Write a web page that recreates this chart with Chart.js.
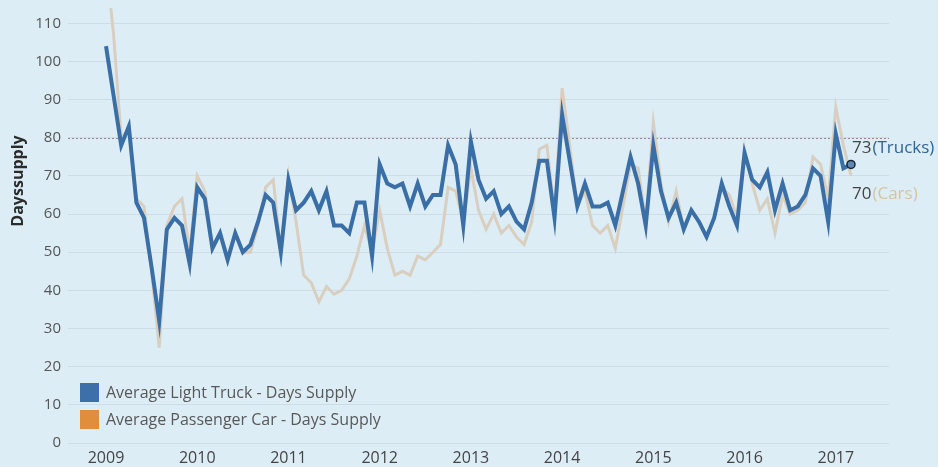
<!DOCTYPE html>
<html>
<head>
<meta charset="utf-8">
<script src="https://cdn.jsdelivr.net/npm/chart.js@4.4.1/dist/chart.umd.min.js"></script>
<style>
html,body{margin:0;padding:0;background:#ddedf6;}
canvas{display:block;}
</style>
</head>
<body>
<canvas id="supplyChart" width="938" height="467"></canvas>
<script>
// monthly categories, Jan 2009 .. Mar 2017
const months = [
  '2009-01','2009-02','2009-03','2009-04','2009-05','2009-06','2009-07','2009-08','2009-09','2009-10','2009-11','2009-12',
  '2010-01','2010-02','2010-03','2010-04','2010-05','2010-06','2010-07','2010-08','2010-09','2010-10','2010-11','2010-12',
  '2011-01','2011-02','2011-03','2011-04','2011-05','2011-06','2011-07','2011-08','2011-09','2011-10','2011-11','2011-12',
  '2012-01','2012-02','2012-03','2012-04','2012-05','2012-06','2012-07','2012-08','2012-09','2012-10','2012-11','2012-12',
  '2013-01','2013-02','2013-03','2013-04','2013-05','2013-06','2013-07','2013-08','2013-09','2013-10','2013-11','2013-12',
  '2014-01','2014-02','2014-03','2014-04','2014-05','2014-06','2014-07','2014-08','2014-09','2014-10','2014-11','2014-12',
  '2015-01','2015-02','2015-03','2015-04','2015-05','2015-06','2015-07','2015-08','2015-09','2015-10','2015-11','2015-12',
  '2016-01','2016-02','2016-03','2016-04','2016-05','2016-06','2016-07','2016-08','2016-09','2016-10','2016-11','2016-12',
  '2017-01','2017-02','2017-03'
];

const trucks = [
  104,91,78,83,63,59,46,32,56,59,57,47,
  67,64,51,55,48,55,50,52,58,65,63,50,
  69,61,63,66,61,66,57,57,55,63,63,49,
  73,68,67,68,62,68,62,65,65,78,73,57,
  79,69,64,66,60,62,58,56,63,74,74,59,
  86,74,62,68,62,62,63,57,66,75,68,57,
  78,66,59,63,56,61,58,54,59,68,62,57,
  76,69,67,71,61,68,61,62,65,72,70,58,
  81,72,73
];

const cars = [
  126,107,80,82,64,62,45,25,57,62,64,50,
  70,66,52,55,49,55,50,50,57,67,69,50,
  70,58,44,42,37,41,39,40,43,49,57,50,
  61,51,44,45,44,49,48,50,52,67,66,58,
  72,61,56,60,55,57,54,52,58,77,78,60,
  93,78,62,66,57,55,57,51,62,73,72,58,
  84,68,58,66,56,61,58,54,59,67,65,59,
  77,68,61,64,55,65,60,61,63,75,73,64,
  88,78,70
];

const years = ['2009','2010','2011','2012','2013','2014','2015','2016','2017'];
const yTicks = [0,10,20,30,40,50,60,70,80,90,100,110];
const refLine = 80;
const legendItems = [
  {text:'Average Light Truck - Days Supply', color:'#3d70a8'},
  {text:'Average Passenger Car - Days Supply', color:'#e08d3c'}
];

const FONT = '"Open Sans", Lato, sans-serif';
const toPoints = arr => arr.map((v,i)=>({x:i,y:v}));
const lastIdx = trucks.length-1;

const extras = {
  id:'extras',
  beforeDatasetsDraw(chart){
    const {ctx, chartArea:a, scales:{y}} = chart;
    const py = Math.round(y.getPixelForValue(refLine))+0.5;
    ctx.save();
    ctx.strokeStyle = 'rgba(150,120,130,0.9)';
    ctx.lineWidth = 1;
    ctx.setLineDash([2,2]);
    ctx.beginPath(); ctx.moveTo(a.left,py); ctx.lineTo(a.right,py); ctx.stroke();
    ctx.restore();
  },
  afterDraw(chart){
    const {ctx, scales:{x,y}} = chart;
    ctx.save();
    // y axis title
    ctx.translate(18,181); ctx.rotate(-Math.PI/2);
    ctx.font = 'bold 16px '+FONT; ctx.fillStyle = '#2b2b2b';
    ctx.textAlign = 'center'; ctx.textBaseline = 'middle';
    ctx.fillText('Dayssupply',0,0);
    ctx.restore();

    // legend
    ctx.save();
    ctx.font = '16px '+FONT; ctx.textBaseline = 'middle'; ctx.textAlign = 'left';
    legendItems.forEach((it,k)=>{
      const top = 383 + k*27;
      ctx.fillStyle = it.color; ctx.fillRect(80,top,19,19);
      ctx.fillStyle = '#585858'; ctx.fillText(it.text,106,top+10);
    });
    ctx.restore();

    // end labels
    const px = x.getPixelForValue(lastIdx);
    ctx.save();
    ctx.font = '17px '+FONT; ctx.textBaseline = 'middle'; ctx.textAlign = 'left';
    const tY = y.getPixelForValue(trucks[lastIdx]) - 16;
    const cY = y.getPixelForValue(cars[lastIdx]) + 18;
    const t1 = String(trucks[lastIdx]);
    ctx.fillStyle = '#444'; ctx.fillText(t1, px+1, tY);
    ctx.fillStyle = '#2f6596'; ctx.fillText('(Trucks)', px+1+ctx.measureText(t1).width+1, tY);
    const c1 = String(cars[lastIdx]);
    ctx.fillStyle = '#444'; ctx.fillText(c1, px+1, cY);
    ctx.fillStyle = '#d6c4a0'; ctx.fillText('(Cars)', px+1+ctx.measureText(c1).width+1, cY);
    ctx.restore();
  }
};

new Chart(document.getElementById('supplyChart'),{
  type:'line',
  data:{datasets:[
    {label:'Average Passenger Car - Days Supply', data:toPoints(cars), borderColor:'#d8cfc0', borderWidth:3, pointRadius:0, tension:0, order:2},
    {label:'Average Light Truck - Days Supply', data:toPoints(trucks), borderColor:'#3a6ea6', borderWidth:4, tension:0, order:1,
     pointRadius:ctx=>ctx.dataIndex===lastIdx?4:0, pointBackgroundColor:'#5d88b5', pointBorderColor:'#1a2633', pointBorderWidth:1.5}
  ]},
  options:{
    responsive:false, animation:false,
    layout:{padding:{top:8,right:49,left:0,bottom:0}},
    plugins:{legend:{display:false}, tooltip:{enabled:false}},
    scales:{
      x:{type:'linear', min:-5, max:103,
        afterBuildTicks:s=>{ s.ticks = years.map(yr=>({value:months.indexOf(yr+'-01')})); },
        afterFit:s=>{ s.height = 24; s.paddingLeft = 0; s.paddingRight = 0; },
        ticks:{callback:v=>months[v].slice(0,4), color:'#444', font:{family:FONT,size:16}, padding:6, maxRotation:0, autoSkip:false},
        grid:{display:false, drawTicks:false}, border:{display:false}},
      y:{min:0, max:114,
        afterBuildTicks:s=>{ s.ticks = yTicks.map(v=>({value:v})); },
        afterFit:s=>{ s.width = 68; s.paddingTop = 0; s.paddingBottom = 0; },
        ticks:{color:'#555', font:{family:FONT,size:15}, padding:7},
        grid:{color:'rgba(190,208,220,0.55)', lineWidth:1, drawTicks:false}, border:{display:false}}
    }
  },
  plugins:[extras]
});
</script>
</body>
</html>
